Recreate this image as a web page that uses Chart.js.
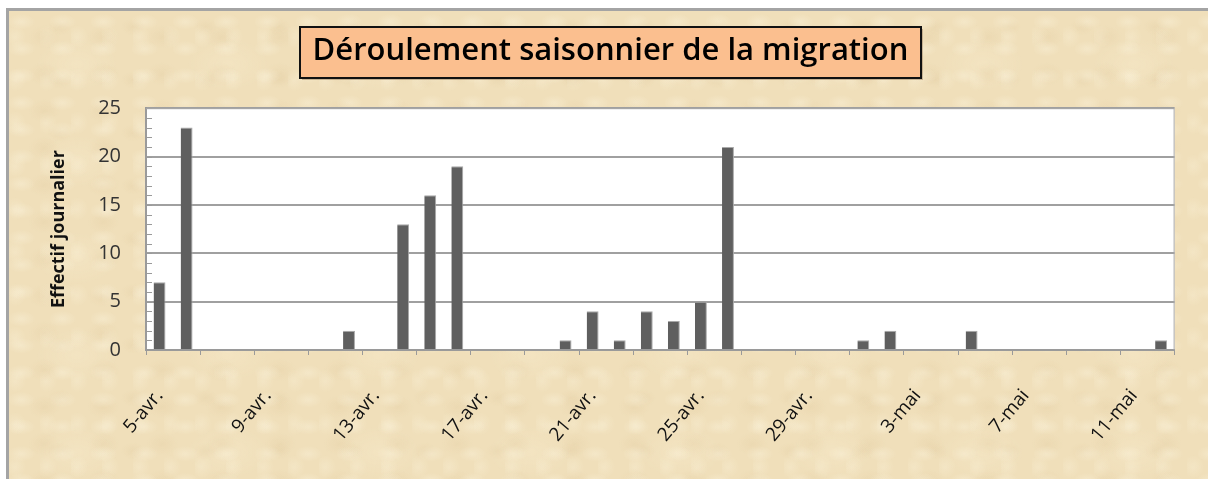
<!DOCTYPE html>
<html lang="fr">
<head>
<meta charset="utf-8">
<title>Déroulement saisonnier de la migration</title>
<script src="https://cdn.jsdelivr.net/npm/chart.js@4.4.1/dist/chart.umd.min.js"></script>
<style>
  html, body { margin: 0; padding: 0; background: #fff; }
  #wrap { position: relative; width: 1209px; height: 479px; overflow: hidden; }
  #parchment {
    position: absolute; left: 6px; top: 8px; right: 1px; bottom: 0;
    border-top: 3px solid #a4a4a4; border-left: 3px solid #a4a4a4;
    background-color: #f0dfba;
    background-image:
      radial-gradient(ellipse at 30% 40%, rgba(255,250,232,0.30) 0, rgba(255,250,232,0) 14px),
      radial-gradient(ellipse at 60% 70%, rgba(214,186,138,0.16) 0, rgba(214,186,138,0) 16px),
      radial-gradient(ellipse at 20% 60%, rgba(255,248,228,0.25) 0, rgba(255,248,228,0) 11px),
      radial-gradient(ellipse at 70% 30%, rgba(210,182,135,0.14) 0, rgba(210,182,135,0) 12px),
      radial-gradient(ellipse at 45% 55%, rgba(255,246,222,0.20) 0, rgba(255,246,222,0) 40px);
    background-size: 41px 27px, 59px 37px, 31px 43px, 73px 53px, 151px 97px;
  }
  #chart { position: absolute; left: 0; top: 0; }
</style>
</head>
<body>
<div id="wrap">
  <div id="parchment"></div>
  <canvas id="chart" width="1209" height="479"></canvas>
</div>
<script>
// jours du 5 avril au 12 mai
const jours = [
  '5-avr.', '6-avr.', '7-avr.', '8-avr.', '9-avr.', '10-avr.', '11-avr.', '12-avr.',
  '13-avr.', '14-avr.', '15-avr.', '16-avr.', '17-avr.', '18-avr.', '19-avr.', '20-avr.',
  '21-avr.', '22-avr.', '23-avr.', '24-avr.', '25-avr.', '26-avr.', '27-avr.', '28-avr.',
  '29-avr.', '30-avr.', '1-mai', '2-mai', '3-mai', '4-mai', '5-mai', '6-mai',
  '7-mai', '8-mai', '9-mai', '10-mai', '11-mai', '12-mai'
];
const effectifs = [
  7, 23, 0, 0, 0, 0, 0, 2,
  0, 13, 16, 19, 0, 0, 0, 1,
  4, 1, 4, 3, 5, 21, 0, 0,
  0, 0, 1, 2, 0, 0, 2, 0,
  0, 0, 0, 0, 0, 1
];
const yTicks = [0, 5, 10, 15, 20, 25];

const titre = 'Déroulement saisonnier de la migration';
const titreAxeY = 'Effectif journalier';

// fond blanc de la zone de tracé + petites graduations + cadre
const plotArea = {
  id: 'plotArea',
  beforeDraw(chart) {
    const { ctx, chartArea: a } = chart;
    ctx.save();
    ctx.fillStyle = '#ffffff';
    ctx.fillRect(a.left, a.top, a.right - a.left, a.bottom - a.top);
    ctx.restore();
  },
  afterDraw(chart) {
    const { ctx, chartArea: a } = chart;
    const y = chart.scales.y;
    ctx.save();
    ctx.strokeStyle = '#9a9a9a';
    ctx.lineWidth = 1;
    for (let v = 0; v <= 25; v++) {
      const py = Math.round(y.getPixelForValue(v)) + 0.5;
      ctx.beginPath();
      ctx.moveTo(a.left, py);
      ctx.lineTo(a.left + 6, py);
      ctx.stroke();
    }
    ctx.strokeStyle = '#a8a8a8';
    ctx.beginPath();
    ctx.moveTo(a.left, a.top + 0.5);
    ctx.lineTo(a.right - 0.5, a.top + 0.5);
    ctx.lineTo(a.right - 0.5, a.bottom);
    ctx.stroke();
    ctx.restore();
  }
};

// cadre orange derrière le titre
const titleBox = {
  id: 'titleBox',
  beforeDraw(chart) {
    const tb = chart.titleBlock;
    if (!tb) return;
    const { ctx } = chart;
    const f = tb.options.font;
    ctx.save();
    ctx.font = `${f.weight || 'normal'} ${f.size}px ${f.family}`;
    const w = ctx.measureText(titre).width;
    const cx = (tb.left + tb.right) / 2;
    const cy = tb.top + tb.options.padding.top + f.size * 0.6;
    const x0 = Math.round(cx - w / 2 - 13), x1 = Math.round(cx + w / 2 + 13);
    const y0 = Math.round(cy - 25), y1 = Math.round(cy + 26);
    ctx.fillStyle = 'rgba(120,90,60,0.35)';
    ctx.fillRect(x0 + 2, y0 + 2, x1 - x0, y1 - y0);
    ctx.fillStyle = '#fbbf8f';
    ctx.fillRect(x0, y0, x1 - x0, y1 - y0);
    ctx.strokeStyle = '#111';
    ctx.lineWidth = 2;
    ctx.strokeRect(x0, y0, x1 - x0, y1 - y0);
    ctx.restore();
  }
};

new Chart(document.getElementById('chart'), {
  type: 'bar',
  data: {
    labels: jours,
    datasets: [{
      label: titreAxeY,
      data: effectifs,
      backgroundColor: '#5f5f5f',
      borderColor: '#a9a9a9',
      borderWidth: { top: 1, right: 1, left: 0, bottom: 0 },
      borderSkipped: 'bottom',
      barPercentage: 0.44,
      categoryPercentage: 1.0
    }]
  },
  options: {
    responsive: false,
    animation: false,
    layout: { padding: { left: 46, right: 34, top: 10, bottom: 0 } },
    plugins: {
      legend: { display: false },
      tooltip: { enabled: false },
      title: {
        display: true,
        text: titre,
        color: '#000',
        font: { family: 'Open Sans', size: 31, weight: '600' },
        padding: { top: 23, bottom: 38 }
      }
    },
    scales: {
      x: {
        afterFit(s) { s.height = 129; },
        grid: {
          drawOnChartArea: false,
          drawTicks: true,
          tickLength: 5,
          lineWidth: 1,
          color: ctx => (ctx.index === undefined || ctx.index % 2 === 0) ? '#9a9a9a' : 'rgba(0,0,0,0)'
        },
        border: { color: '#9a9a9a', width: 2 },
        ticks: {
          autoSkip: false,
          minRotation: 50,
          maxRotation: 50,
          padding: 30,
          color: '#111',
          font: { family: 'Open Sans', size: 19 },
          callback: (v, i) => (i % 4 === 0 ? jours[i] : '')
        }
      },
      y: {
        min: 0,
        max: 25,
        afterFit(s) { s.width = 100; },
        afterBuildTicks(s) { s.ticks = yTicks.map(v => ({ value: v })); },
        grid: {
          drawTicks: false,
          color: '#a0a0a0',
          lineWidth: 2
        },
        border: { color: '#9a9a9a', width: 2 },
        ticks: {
          padding: 25,
          color: '#333',
          font: { family: 'Open Sans', size: 20 }
        },
        title: {
          display: true,
          text: titreAxeY,
          color: '#111',
          font: { family: 'Open Sans', size: 18, weight: 'bold' },
          padding: { top: 2, bottom: 0 }
        }
      }
    }
  },
  plugins: [plotArea, titleBox]
});
</script>
</body>
</html>
